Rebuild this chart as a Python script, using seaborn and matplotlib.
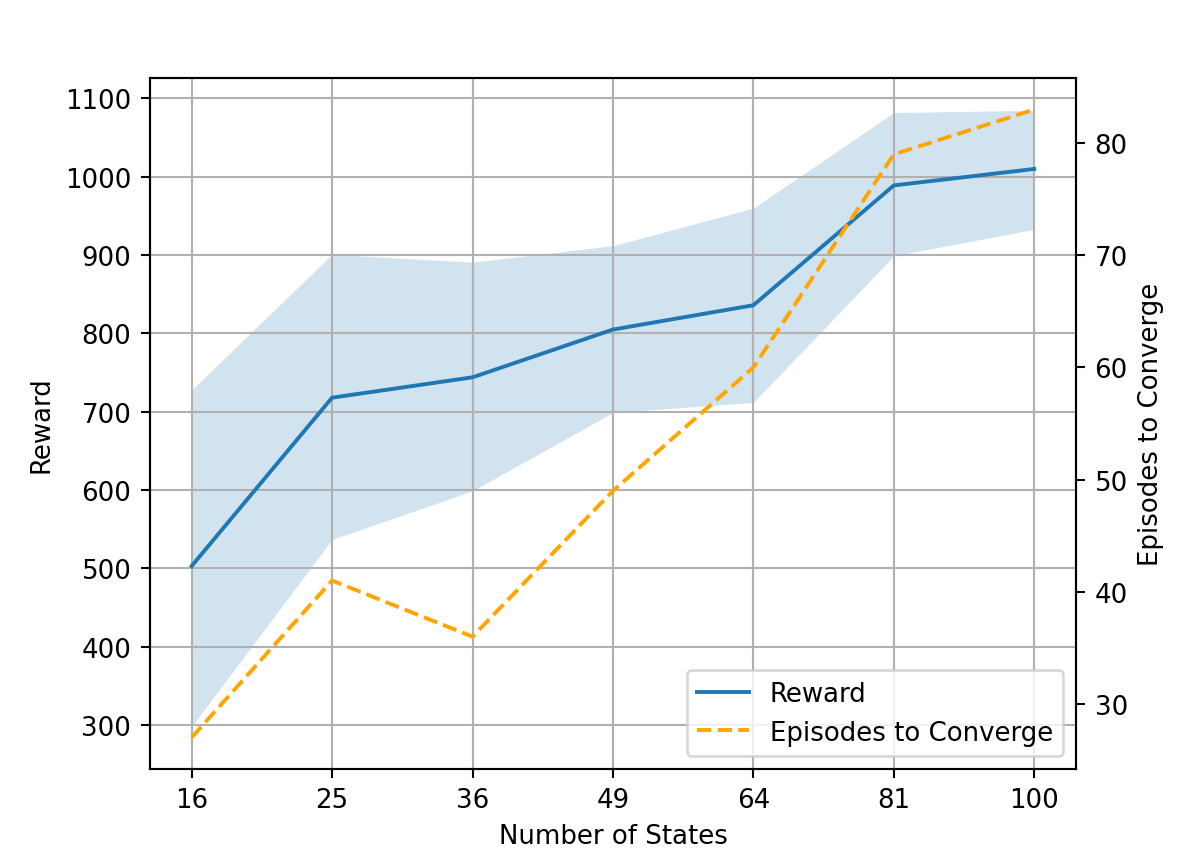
import numpy as np
import matplotlib
matplotlib.use("Agg")
import matplotlib.pyplot as plt
import seaborn as sns

# values
states = ["16", "25", "36", "49", "64", "81", "100"]
reward = [503, 718, 744, 805, 836, 989, 1010]
reward_hi = [728, 901, 891, 912, 960, 1082, 1085]
reward_lo = [298, 537, 599, 699, 712, 899, 933]
episodes = [27, 41, 36, 49, 60, 79, 83]

x = np.arange(len(states))

fig, ax1 = plt.subplots(figsize=(6.4, 4.65), dpi=186.875)
fig.subplots_adjust(left=0.125, right=0.9, top=0.909, bottom=0.114)

sns.lineplot(x=x, y=reward, ax=ax1, color="C0", label="Reward", legend=False)
ax1.fill_between(x, reward_lo, reward_hi, color="C0", alpha=0.2, linewidth=0)
ax1.set_xlabel("Number of States")
ax1.set_ylabel("Reward")
ax1.set_xticks(x)
ax1.set_xticklabels(states)
ax1.set_ylim(244, 1126)
ax1.grid(True)

ax2 = ax1.twinx()
sns.lineplot(x=x, y=episodes, ax=ax2, color="orange", linestyle="--",
             label="Episodes to Converge", legend=False)
ax2.set_ylabel("Episodes to Converge")
ax2.set_ylim(24.2, 85.8)

h1, l1 = ax1.get_legend_handles_labels()
h2, l2 = ax2.get_legend_handles_labels()
ax2.legend(h1 + h2, l1 + l2, loc="lower right")

plt.savefig("out.png", dpi=186.875)
plt.close()
